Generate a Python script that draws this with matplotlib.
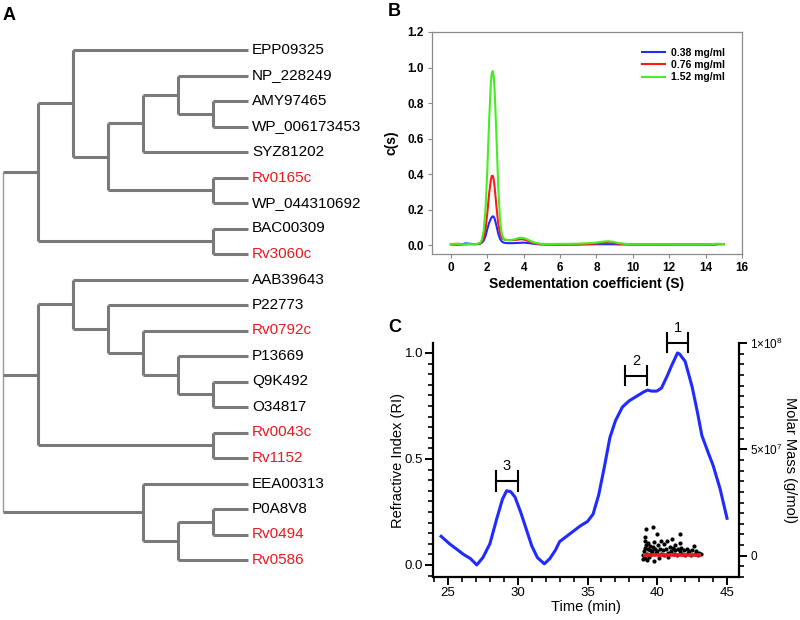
import numpy as np
import matplotlib
matplotlib.use('Agg')
import matplotlib.pyplot as plt
from matplotlib.ticker import MultipleLocator

plt.rcParams['font.family'] = ['Liberation Sans', 'DejaVu Sans']
plt.rcParams['mathtext.fontset'] = 'custom'
plt.rcParams['mathtext.rm'] = 'Liberation Sans'
plt.rcParams['mathtext.it'] = 'Liberation Sans:italic'

# ---- panel A: cladogram ----
leaf_names = ['EPP09325', 'NP_228249', 'AMY97465', 'WP_006173453', 'SYZ81202',
              'Rv0165c', 'WP_044310692', 'BAC00309', 'Rv3060c', 'AAB39643',
              'P22773', 'Rv0792c', 'P13669', 'Q9K492', 'O34817', 'Rv0043c',
              'Rv1152', 'EEA00313', 'P0A8V8', 'Rv0494', 'Rv0586']
# nested leaf indices
tree = (((0, (((1, (2, 3)), 4), (5, 6))), (7, 8)),
        ((9, (10, (11, (12, (13, 14))))), (15, 16)),
        (17, ((18, 19), 20)))

# ---- panel B: c(s) distributions ----
sed_s = [0, 0.2, 0.4, 0.6, 0.8, 1.0, 1.2, 1.4, 1.6, 1.7, 1.8, 1.9, 2.0, 2.1, 2.2,
         2.25, 2.3, 2.35, 2.4, 2.5, 2.6, 2.7, 2.8, 2.9, 3.0, 3.2, 3.4, 3.6, 3.8,
         4.0, 4.2, 4.4, 4.6, 4.8, 5.0, 5.5, 6, 6.5, 7, 7.5, 8, 8.3, 8.6, 8.9,
         9.2, 9.6, 10, 11, 12, 13, 14, 14.5, 14.7, 15]
cs_038 = [0.005, 0.003, 0.002, 0.004, 0.01, 0.008, 0.006, 0.005, 0.008, 0.014,
          0.025, 0.05, 0.09, 0.125, 0.15, 0.158, 0.162, 0.16, 0.15, 0.11, 0.065,
          0.035, 0.02, 0.014, 0.012, 0.011, 0.011, 0.012, 0.013, 0.014, 0.012,
          0.01, 0.007, 0.005, 0.004, 0.003, 0.003, 0.003, 0.003, 0.004, 0.005,
          0.005, 0.005, 0.005, 0.004, 0.004, 0.003, 0.003, 0.003, 0.003, 0.003,
          0.004, 0.005, 0.006]
cs_076 = [0.004, 0.006, 0.008, 0.004, 0.004, 0.005, 0.005, 0.006, 0.01, 0.02,
          0.04, 0.09, 0.18, 0.29, 0.37, 0.39, 0.39, 0.37, 0.33, 0.22, 0.12,
          0.065, 0.04, 0.032, 0.03, 0.028, 0.028, 0.03, 0.033, 0.032, 0.025,
          0.016, 0.01, 0.007, 0.005, 0.004, 0.004, 0.005, 0.006, 0.007, 0.009,
          0.011, 0.012, 0.011, 0.008, 0.005, 0.004, 0.003, 0.003, 0.003, 0.003,
          0.004, 0.006, 0.005]
cs_152 = [0.005, 0.008, 0.006, 0.004, 0.005, 0.006, 0.005, 0.006, 0.012, 0.03,
          0.08, 0.2, 0.42, 0.70, 0.92, 0.97, 0.98, 0.95, 0.88, 0.62, 0.33, 0.14,
          0.06, 0.035, 0.03, 0.028, 0.03, 0.036, 0.042, 0.04, 0.032, 0.022,
          0.014, 0.01, 0.007, 0.006, 0.007, 0.007, 0.008, 0.01, 0.014, 0.019,
          0.022, 0.019, 0.012, 0.007, 0.005, 0.004, 0.004, 0.003, 0.004, 0.007,
          0.008, 0.006]
conc_labels = ['0.38 mg/ml', '0.76 mg/ml', '1.52 mg/ml']

# ---- panel C: SEC-MALS ----
time_min = [24.5, 25.1, 25.5, 26.1, 26.6, 27.06, 27.5, 28.0, 28.5, 28.9, 29.2,
            29.5, 29.8, 30.2, 30.6, 31.0, 31.4, 31.9, 32.3, 32.7, 33.0, 33.5,
            34.0, 34.5, 35.0, 35.4, 35.8, 36.2, 36.6, 37.0, 37.5, 38.0, 38.5,
            39.0, 39.3, 39.6, 39.96, 40.3, 40.7, 41.0, 41.45, 41.6, 42.0, 42.5,
            42.85, 43.2, 43.65, 44.0, 44.5, 45.0]
ri = [0.135, 0.10, 0.08, 0.05, 0.03, 0.0, 0.035, 0.10, 0.22, 0.31, 0.35, 0.345,
      0.32, 0.25, 0.17, 0.09, 0.035, 0.005, 0.03, 0.07, 0.11, 0.135, 0.16,
      0.185, 0.205, 0.24, 0.33, 0.46, 0.60, 0.68, 0.745, 0.775, 0.795, 0.815,
      0.825, 0.82, 0.82, 0.834, 0.89, 0.936, 1.0, 0.995, 0.96, 0.84, 0.73,
      0.61, 0.53, 0.47, 0.36, 0.22]

mm_time = [38.95, 39.0, 39.05, 39.1, 39.1, 39.15, 39.15, 39.2, 39.2, 39.25, 39.25,
           39.3, 39.35, 39.4, 39.45, 39.5, 39.55, 39.6, 39.67, 39.7, 39.75, 39.8,
           39.85, 39.9, 39.95, 40.0, 40.05, 40.1, 40.2, 40.25, 40.3, 40.4, 40.45,
           40.5, 40.6, 40.7, 40.75, 40.8, 40.9, 41.0, 41.05, 41.1, 41.2, 41.25,
           41.3, 41.4, 41.5, 41.6, 41.6, 41.65, 41.7, 41.8, 41.9, 42.0, 42.1,
           42.2, 42.3, 42.4, 42.5, 42.6, 42.7, 42.8, 42.9, 43.0, 43.1]
mm_mass = [0.5e6, -1.5e6, 2e6, 7e6, -1e6, 3.5e6, 9e6, 12.4e6, 5e6, 1e6, -2e6,
           3e6, 6e6, -0.5e6, 2.5e6, 4.5e6, 1e6, 2e6, 13.6e6, 4e6, -2.5e6, 6.5e6,
           3e6, 1.5e6, 10.2e6, 2e6, 5e6, -1e6, 3e6, 7e6, 1e6, 2.5e6, 5.5e6,
           0.5e6, 3e6, 7e6, 1.5e6, -0.5e6, 4e6, 2e6, 8e6, 3.5e6, 1e6, 5e6, 2.5e6,
           0.5e6, 3e6, 10.3e6, 6e6, 2e6, 3.5e6, 1e6, 2.5e6, 0.5e6, 3e6, 1.5e6,
           2e6, 0.5e6, 2.5e6, 4.5e6, 1e6, 2e6, 0.5e6, 1.5e6, 1e6]
mm_fit_time = [39.0, 43.1]
mm_fit_mass = [0.5e6, 0.5e6]

bracket_labels = ['1', '2', '3']
bracket_left = [40.68, 37.69, 28.42]
bracket_right = [42.23, 39.24, 30.0]
bracket_y = [1.048, 0.892, 0.396]

fig = plt.figure(figsize=(8, 6.2), dpi=100)
W, H = 800.0, 620.0


def ax_at(x0, y0, x1, y1):
    return fig.add_axes([x0 / W, 1 - y1 / H, (x1 - x0) / W, (y1 - y0) / H])


# ---------------- A ----------------
axA = ax_at(3, 50, 248, 560)
axA.set_xlim(0, 7)
axA.set_ylim(20, 0)
axA.axis('off')
tree_col = '#7a7a7a'


def draw(node, is_root=False):
    if isinstance(node, int):
        return 7, node
    pts = [draw(ch) for ch in node]
    x = min(p[0] for p in pts) - 1
    ys = [p[1] for p in pts]
    lw_v = 1.0 if is_root else 2.2
    col_v = '#9a9a9a' if is_root else tree_col
    axA.plot([x, x], [min(ys), max(ys)], color=col_v, lw=lw_v,
             solid_capstyle='butt', clip_on=False)
    for cx, cy in pts:
        axA.plot([x, cx], [cy, cy], color=tree_col, lw=2.2,
                 solid_capstyle='butt', clip_on=False)
    return x, (min(ys) + max(ys)) / 2


draw(tree, is_root=True)
for i, name in enumerate(leaf_names):
    col = '#e8191f' if name.startswith('Rv') else 'black'
    axA.text(7.12, i, name, color=col, fontsize=11, va='center', ha='left')

fig.text(3 / W, 1 - 15 / H, 'A', fontsize=13, fontweight='bold', va='center')
fig.text(388 / W, 1 - 11 / H, 'B', fontsize=13, fontweight='bold', va='center')
fig.text(388 / W, 1 - 327 / H, 'C', fontsize=13, fontweight='bold', va='center')

# ---------------- B ----------------
axB = ax_at(432, 32, 742, 254)
for y, c, lab in zip([cs_038, cs_076, cs_152], ['#1f2bff', '#ff1a1a', '#44ee22'],
                     conc_labels):
    axB.plot(sed_s, y, color=c, lw=1.5, label=lab)
axB.set_xlim(-1.04, 16)
axB.set_ylim(-0.05, 1.2)
axB.set_xticks(np.arange(0, 17, 2))
axB.set_yticks([0, 0.2, 0.4, 0.6, 0.8, 1.0, 1.2])
axB.set_yticklabels(['0.0', '0.2', '0.4', '0.6', '0.8', '1.0', '1.2'])
for s in axB.spines.values():
    s.set_color('#8a8a8a')
    s.set_linewidth(0.9)
axB.tick_params(direction='out', length=3, width=0.8, color='#8a8a8a',
                labelsize=8.5, pad=3)
for t in axB.get_xticklabels() + axB.get_yticklabels():
    t.set_fontweight('bold')
axB.set_xlabel('Sedementation coefficient (S)', fontsize=10, fontweight='bold',
               labelpad=2)
axB.set_ylabel('c(s)', fontsize=10, fontweight='bold', labelpad=6)
leg = axB.legend(loc='upper right', bbox_to_anchor=(0.975, 0.97), frameon=False,
                 prop={'size': 7.5, 'weight': 'bold'}, handlelength=2.2,
                 handletextpad=0.6, labelspacing=0.2)

# ---------------- C ----------------
axC = ax_at(433, 343, 739, 577)
axC.plot(time_min, ri, color='#1f2bff', lw=2.2, zorder=3)
axC.set_xlim(23.92, 45.86)
axC.set_ylim(-0.057, 1.047)
axC.set_xticks([25, 30, 35, 40, 45])
axC.xaxis.set_minor_locator(MultipleLocator(1))
axC.set_yticks([0, 0.5, 1.0])
axC.set_yticklabels(['0.0', '0.5', '1.0'])
axC.yaxis.set_minor_locator(MultipleLocator(0.05))
axC.spines['top'].set_visible(False)
axC.spines['right'].set_visible(False)
for s in ['left', 'bottom']:
    axC.spines[s].set_linewidth(1.6)
axC.tick_params(which='major', direction='out', length=6, width=1.4,
                labelsize=9.5, pad=1)
axC.tick_params(which='minor', direction='out', length=3.5, width=1.2)
axC.set_xlabel('Time (min)', fontsize=10.5, labelpad=1)
axC.set_ylabel('Refractive Index (RI)', fontsize=10.5, labelpad=0)

for lab, xl, xr, yb in zip(bracket_labels, bracket_left, bracket_right, bracket_y):
    axC.plot([xl, xr], [yb, yb], color='black', lw=1.5, clip_on=False)
    axC.plot([xl, xl], [yb - 0.045, yb + 0.045], color='black', lw=1.5, clip_on=False)
    axC.plot([xr, xr], [yb - 0.045, yb + 0.045], color='black', lw=1.5, clip_on=False)
    axC.text((xl + xr) / 2, yb + 0.07, lab, fontsize=10.5, ha='center',
             va='center', clip_on=False)

axR = axC.twinx()
axR.set_ylim(-1e7, 1e8)
axR.scatter(mm_time, mm_mass, s=9, color='black', zorder=3, linewidths=0)
axR.plot(mm_fit_time, mm_fit_mass, color='#e8191f', lw=2.6, zorder=4,
         solid_capstyle='butt')
axR.set_yticks([0, 5e7, 1e8])
axR.set_yticklabels(['0', r'5×10$^{7}$', r'1×10$^{8}$'])
axR.yaxis.set_minor_locator(MultipleLocator(5e6))
for s in ['top', 'left', 'bottom']:
    axR.spines[s].set_visible(False)
axR.spines['right'].set_linewidth(1.6)
axR.tick_params(which='major', direction='out', length=6, width=1.4,
                labelsize=8.5, pad=2)
axR.tick_params(which='minor', direction='out', length=3.5, width=1.2)
axR.set_ylabel('Molar Mass (g/mol)', fontsize=10.5, rotation=270, labelpad=10)

fig.savefig('out.png', dpi=100)
